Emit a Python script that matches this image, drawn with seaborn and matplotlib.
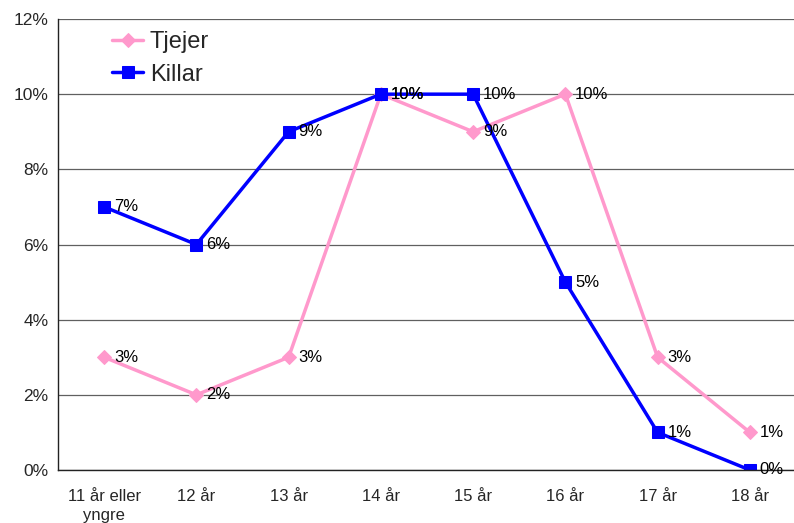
import matplotlib
matplotlib.use("Agg")
import matplotlib.pyplot as plt
import seaborn as sns
import pandas as pd
import numpy as np

categories = ["11 år eller\nyngre", "12 år", "13 år", "14 år", "15 år", "16 år", "17 år", "18 år"]
tjejer = [3, 2, 3, 10, 9, 10, 3, 1]
killar = [7, 6, 9, 10, 10, 5, 1, 0]
yticks = [0, 2, 4, 6, 8, 10, 12]

sns.set_style("white")
plt.rcParams['font.family'] = ['Liberation Sans', 'DejaVu Sans']

fig = plt.figure(figsize=(7.94, 5.23), dpi=100)
ax = fig.add_axes([58/794, 1 - 470/523, (796 - 58)/794, (470 - 19)/523])

idx = np.arange(len(categories))
df = pd.DataFrame({"x": np.concatenate([idx, idx]),
                   "y": tjejer + killar,
                   "serie": ["Tjejer"] * len(idx) + ["Killar"] * len(idx)})

sns.lineplot(data=df[df.serie == "Tjejer"], x="x", y="y", ax=ax, color="#FF99CC",
             marker="D", markersize=7, markeredgecolor="#FF99CC", linewidth=2.5, label="Tjejer")
sns.lineplot(data=df[df.serie == "Killar"], x="x", y="y", ax=ax, color="#0000FF",
             marker="s", markersize=8.5, markeredgecolor="#0000FF", linewidth=2.5, label="Killar")

for xs, ys in ((idx, tjejer), (idx, killar)):
    for xi, yi in zip(xs, ys):
        ax.annotate(f"{yi}%", (xi, yi), xytext=(7, 0), textcoords="offset points",
                    va="center", ha="left", fontsize=12, color="black")

ax.set_xlim(-0.5, 7.5)
ax.set_ylim(0, 12)
ax.set_yticks(yticks)
ax.set_yticklabels([f"{t}%" for t in yticks], fontsize=12.5)
ax.yaxis.grid(True, color="#606060", linewidth=0.9)
ax.set_axisbelow(True)

ax.set_xticks(np.arange(-0.5, 8.0, 1.0))
ax.set_xticklabels([])
ax.set_xticks(idx, minor=True)
ax.set_xticklabels(categories, minor=True, fontsize=12, linespacing=1.3, va="top")
ax.tick_params(axis="x", which="major", direction="out", length=5, color="#555555", width=0.8)
ax.tick_params(axis="x", which="minor", length=0, pad=14)
ax.tick_params(axis="y", direction="out", length=4, color="#555555", width=0.8, pad=3)
ax.set_xlabel("")
ax.set_ylabel("")

for s in ["top", "right"]:
    ax.spines[s].set_visible(False)
for s in ["left", "bottom"]:
    ax.spines[s].set_color("#222222")
    ax.spines[s].set_linewidth(1)

leg = ax.legend(loc="upper left", bbox_to_anchor=(0.051, 1.01), frameon=False, fontsize=17,
                handlelength=1.3, handletextpad=0.3, labelspacing=0.45, borderaxespad=0.3,
                markerscale=1.0)

fig.savefig("out.png", dpi=100)
